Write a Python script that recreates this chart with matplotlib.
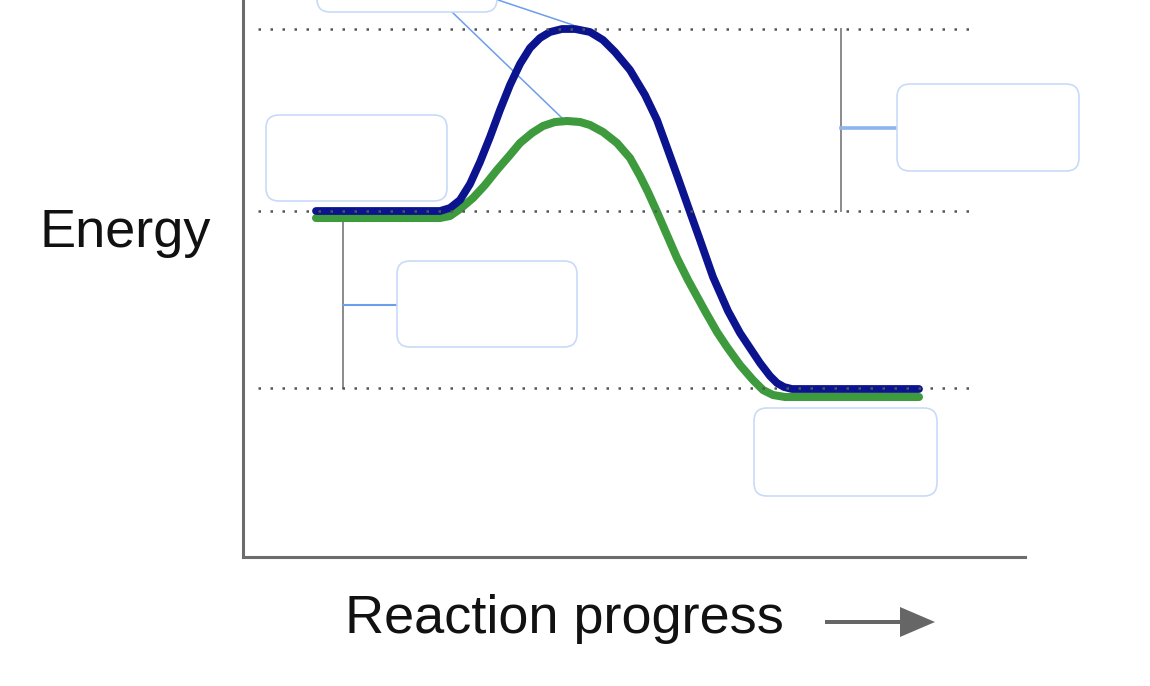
import matplotlib
matplotlib.use("Agg")
import matplotlib.pyplot as plt
from matplotlib.patches import FancyBboxPatch, FancyArrow

# ---- data (progress units, energy units) ----
uncat_x = [73, 197, 207, 217, 227, 237, 247, 257, 267, 277, 287, 297, 307, 319, 332,
           347, 360, 372, 387, 402, 414, 422, 435, 447, 457, 470, 485, 497, 507, 517,
           527, 534, 541, 549, 676]
uncat_y = [346, 346, 349, 357, 373, 395, 420, 447, 472, 493, 509, 519, 525, 528, 528,
           525, 517, 505, 487, 462, 437, 415, 379, 345, 317, 280, 246, 224, 209, 194,
           181, 174, 170, 168, 168]

cat_x = [73, 197, 207, 217, 230, 242, 254, 267, 277, 289, 300, 312, 324, 337, 347,
         360, 374, 387, 397, 405, 414, 424, 434, 445, 462, 474, 484, 497, 510, 520,
         530, 542, 676]
cat_y = [339, 339, 341, 348, 359, 372, 387, 402, 414, 424, 431, 435, 436, 435, 432,
         425, 414, 399, 381, 365, 345, 322, 299, 277, 246, 225, 210, 192, 177, 167,
         162, 160, 160]

# reference energy levels: transition state (uncatalyzed), reactants, products
level_y = [528, 346, 169]
level_x_range = [15, 732]

# label boxes (left, bottom, width, height)
box_specs = [
    (74, 545, 180, 85),
    (23, 356, 181, 86),
    (154, 210, 180, 86),
    (654, 386, 182, 87),
    (511, 61, 183, 88),
]

x_label = "Reaction progress"
y_label = "Energy"

# ---- figure ----
fig = plt.figure(figsize=(11.5, 6.86), dpi=100)
ax = fig.add_axes([243 / 1150, 129 / 686, 782 / 1150, 557 / 686])
ax.set_xlim(0, 782)
ax.set_ylim(0, 557)
ax.set_xticks([])
ax.set_yticks([])
for s in ["top", "right"]:
    ax.spines[s].set_visible(False)
for s in ["left", "bottom"]:
    ax.spines[s].set_color("#6c6c6c")
    ax.spines[s].set_linewidth(2.2)

# curves
ax.plot(cat_x, cat_y, color="#3d9a3d", lw=5.8, solid_capstyle="round",
        solid_joinstyle="round", zorder=3)
ax.plot(uncat_x, uncat_y, color="#0b138f", lw=5.6, solid_capstyle="round",
        solid_joinstyle="round", zorder=4)

# dotted levels (on top)
for ly in level_y:
    ax.plot(level_x_range, [ly, ly], color="#555555", lw=1.8,
            linestyle=(0, (1.0, 3.8)), dash_capstyle="butt", zorder=6)

# brackets
ax.plot([100, 100], [339, 169], color="#8a8a8a", lw=1.4, zorder=2)
ax.plot([100, 154], [252, 252], color="#6d9eeb", lw=1.5, zorder=2)
ax.plot([598, 598], [528, 346], color="#8a8a8a", lw=1.4, zorder=2)
ax.plot([598, 654], [429, 429], color="#8fb4ee", lw=2.6, zorder=2, clip_on=False)

# leader lines
ax.plot([255, 330], [557, 532], color="#6d9eeb", lw=1.1, zorder=2, clip_on=False)
ax.plot([209, 319], [545, 439], color="#6d9eeb", lw=1.1, zorder=2)

# boxes
for (bx, by, bw, bh) in box_specs:
    p = FancyBboxPatch((bx, by), bw, bh,
                       boxstyle="round,pad=0,rounding_size=13",
                       facecolor="white", edgecolor="#c9daf8", lw=1.2,
                       zorder=5, clip_on=False)
    ax.add_patch(p)

# axis labels
fig.text(40 / 1150, (686 - 247) / 686, y_label, fontsize=39,
         family="Liberation Sans", ha="left", va="baseline", color="#111111")
fig.text(345 / 1150, (686 - 633) / 686, x_label, fontsize=39,
         family="Liberation Sans", ha="left", va="baseline", color="#111111")

# arrow
arr = FancyArrow(582, -65, 110, 0, width=4, head_width=30, head_length=35,
                 length_includes_head=True, color="#666666", clip_on=False, lw=0)
ax.add_patch(arr)

fig.savefig("out.png", dpi=100)
